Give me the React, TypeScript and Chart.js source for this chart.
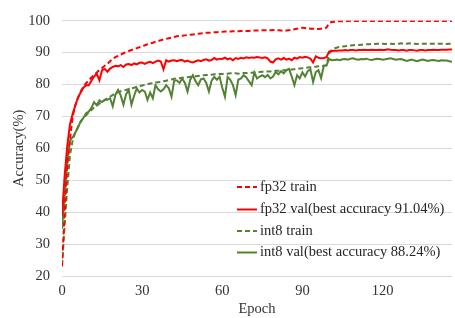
import React, { useEffect, useRef } from "react";
import { Chart, registerables } from "chart.js";

Chart.register(...registerables);

const fp32Train = [
  23, 40, 55, 63, 70, 73.5, 75.8, 77.8, 79.3, 80.4,
  81.3, 82.2, 83, 83.8, 84.5, 85.2, 85.9, 86.5, 87.3, 88,
  88.6, 89, 89.4, 89.8, 90.2, 90.5, 90.8, 91.1, 91.4, 91.7,
  92, 92.3, 92.6, 92.9, 93.1, 93.4, 93.6, 93.9, 94.1, 94.3,
  94.5, 94.7, 94.9, 95.1, 95.2, 95.3, 95.4, 95.5, 95.6, 95.7,
  95.8, 95.9, 96, 96.1, 96.2, 96.2, 96.3, 96.4, 96.4, 96.5,
  96.5, 96.6, 96.6, 96.6, 96.7, 96.7, 96.7, 96.8, 96.8, 96.8,
  96.8, 96.9, 96.9, 96.9, 97, 97, 97, 97, 97, 97.1,
  97.1, 97, 96.9, 96.8, 96.9, 97, 97.1, 97.3, 97.5, 97.7,
  97.8, 97.7, 97.6, 97.5, 97.5, 97.4, 97.4, 97.5, 97.6, 97.8,
  99.3, 99.6, 99.7, 99.8, 99.8, 99.8, 99.8, 99.9, 99.9, 99.9,
  99.9, 99.9, 99.9, 99.9, 99.9, 99.9, 99.9, 99.9, 99.9, 99.9,
  99.9, 99.9, 99.9, 99.9, 99.9, 99.9, 99.9, 99.9, 99.9, 99.9,
  99.9, 99.9, 99.9, 99.9, 99.9, 99.9, 99.9, 99.9, 99.9, 99.9,
  99.9, 99.9, 99.9, 99.9, 99.9, 99.9, 99.9,
];

const fp32Val = [
  39, 51.5, 61, 67.6, 70.8, 73.5, 76, 77.5, 79, 79.8,
  79.8, 81.2, 82.5, 83.4, 81.3, 84.5, 84.9, 84, 85, 85.5,
  85.9, 85.7, 86.1, 85.5, 86.3, 86.4, 86.1, 86.6, 86.3, 86.8,
  86.9, 86.5, 86.9, 87.1, 86.7, 87.2, 87.5, 87.2, 84.8, 87.6,
  87.2, 87.5, 87.6, 87.3, 87.6, 87.7, 87.2, 87.5, 87.1, 86.9,
  87.3, 87.6, 87.3, 87.7, 87.9, 87.5, 87.7, 88.3, 87.8, 88.1,
  88, 88.4, 87.9, 88.2, 87.6, 88.3, 88, 88.4, 88.2, 88.5,
  88.3, 88.5, 88.4, 88.6, 88.5, 88.3, 88.5, 88.2, 87.2, 86.9,
  87.9, 88.2, 87.8, 88.3, 87.8, 88.1, 87.6, 88.4, 88.1, 88.6,
  88.4, 88.7, 88.5, 88.1, 86.9, 88.8, 88.4, 88.2, 88.3, 88.6,
  90.3, 90.5, 90.6, 90.6, 90.7, 90.7, 90.8, 90.7, 90.8, 90.8,
  90.7, 90.8, 90.8, 90.9, 90.8, 90.8, 90.9, 90.8, 90.8, 90.9,
  90.8, 90.8, 91.04, 90.9, 90.8, 90.8, 90.7, 90.8, 90.8, 90.6,
  90.8, 90.8, 90.7, 90.6, 90.8, 90.8, 90.7, 90.8, 90.8, 90.9,
  90.8, 90.8, 90.9, 90.9, 90.9, 91, 91,
];

const int8Train = [
  23.5, 36, 48, 58, 62.5, 65, 66.8, 68.3, 69.5, 70.4,
  71.2, 72, 72.8, 73.4, 74, 74.6, 75.1, 75.7, 76.2, 76.7,
  77.2, 77.6, 77.9, 78.1, 78.3, 78.6, 78.8, 79, 79.3, 79.5,
  79.7, 79.9, 80.1, 80.3, 80.4, 80.6, 80.7, 80.8, 81, 81.2,
  81.4, 81.6, 81.8, 81.9, 82, 82.1, 82.2, 82.3, 82.4, 82.5,
  82.6, 82.7, 82.8, 82.9, 83, 83, 83.1, 83.2, 83.2, 83.3,
  83.3, 83.4, 83.4, 83.5, 83.5, 83.5, 83.4, 83.5, 83.6, 83.6,
  83.7, 83.7, 83.8, 83.9, 83.9, 84, 84, 84.1, 84.1, 84.2,
  84.3, 84.3, 84.4, 84.5, 84.5, 84.6, 84.7, 84.8, 84.9, 85,
  85.1, 85.2, 85.3, 85.4, 85.5, 85.6, 85.7, 85.8, 85.9, 86,
  89.8, 90.8, 91.3, 91.6, 91.8, 91.9, 92, 92.1, 92.2, 92.3,
  92.4, 92.4, 92.5, 92.5, 92.6, 92.6, 92.7, 92.7, 92.8, 92.8,
  92.8, 92.7, 92.8, 92.8, 92.7, 92.8, 92.8, 92.9, 92.8, 92.8,
  92.9, 92.8, 92.8, 92.7, 92.8, 92.8, 92.8, 92.7, 92.8, 92.8,
  92.7, 92.8, 92.8, 92.7, 92.7, 92.8, 92.7,
];

const int8Val = [
  34.8, 45, 56, 62.5, 63.5, 65, 66.5, 68.5, 69.5, 71,
  71.5, 72.7, 74.5, 73.5, 75, 74.5, 75.2, 75.2, 75.7, 73.2,
  76.8, 78.3, 76.5, 73.7, 77, 78.3, 73.7, 76.5, 78.8, 77.5,
  78.3, 77.8, 75.2, 77.5, 75.7, 79.8, 78.5, 77.8, 78.5, 79.8,
  78.8, 76.2, 81.3, 81.3, 80.5, 81.9, 80.5, 77.8, 81.5, 82.9,
  81, 79.8, 81.6, 81.9, 80.5, 77.8, 81.2, 82.4, 81.5, 82.4,
  79, 76.2, 82.4, 81.5, 79.8, 76.7, 81.5, 81.9, 82.9, 82.2,
  81, 79.8, 83.8, 81.9, 82.5, 82.9, 82.3, 83, 81.9, 82.5,
  83.9, 83.2, 84.2, 83.5, 84.5, 84.9, 82.5, 79.8, 82.9, 81.9,
  83.8, 82.5, 84.2, 84.8, 80.8, 83.9, 84.5, 82, 85.9, 86,
  88, 87.6, 87.7, 87.8, 87.6, 87.9, 88, 87.8, 88.1, 88.24,
  87.9, 87.8, 88, 87.9, 88.1, 87.8, 87.7, 87.9, 88.1, 88,
  87.8, 87.9, 88.1, 88.2, 88, 87.8, 87.9, 88, 87.7, 87.4,
  87.6, 87.8, 87.5, 87.3, 87.6, 87.8, 87.6, 87.4, 87.6, 87.7,
  87.5, 87.4, 87.6, 87.5, 87.5, 87.3, 87.1,
];

const epochs = fp32Train.map((_, i) => i);
const xTicks = [0, 30, 60, 90, 120];
const legendLabels = [
  "fp32 train",
  "fp32 val(best accuracy 91.04%)",
  "int8 train",
  "int8 val(best accuracy 88.24%)",
];

const RED = "#ff0000";
const GREEN = "#548235";
const FONT = "'Liberation Serif', 'DejaVu Serif', serif";
const FS = 14.5;

const legendPlugin = {
  id: "insideLegend",
  afterDraw(chart: any) {
    const ctx = chart.ctx;
    const x0 = 237;
    const x1 = 257;
    const tx = 260;
    const rows = [187, 209.5, 231, 252.5];
    ctx.save();
    chart.data.datasets.forEach((ds: any, i: number) => {
      const y = rows[i];
      ctx.beginPath();
      ctx.strokeStyle = ds.borderColor;
      ctx.lineWidth = 2;
      ctx.setLineDash(ds.borderDash || []);
      ctx.moveTo(x0, y);
      ctx.lineTo(x1, y);
      ctx.stroke();
      ctx.setLineDash([]);
      ctx.fillStyle = "#262626";
      ctx.font = `${FS}px ${FONT}`;
      ctx.textBaseline = "middle";
      ctx.textAlign = "left";
      ctx.fillText(legendLabels[i], tx, y);
    });
    ctx.restore();
  },
};

export default function App() {
  const ref = useRef<HTMLCanvasElement | null>(null);
  useEffect(() => {
    if (!ref.current) return;
    const chart = new Chart(ref.current, {
      type: "line",
      data: {
        labels: epochs,
        datasets: [
          { label: legendLabels[0], data: fp32Train, borderColor: RED, borderDash: [5, 3], borderWidth: 2, pointRadius: 0, fill: false, tension: 0 },
          { label: legendLabels[1], data: fp32Val, borderColor: RED, borderWidth: 2, pointRadius: 0, fill: false, tension: 0 },
          { label: legendLabels[2], data: int8Train, borderColor: GREEN, borderDash: [5, 3], borderWidth: 2, pointRadius: 0, fill: false, tension: 0 },
          { label: legendLabels[3], data: int8Val, borderColor: GREEN, borderWidth: 2, pointRadius: 0, fill: false, tension: 0 },
        ],
      },
      options: {
        animation: false,
        responsive: true,
        maintainAspectRatio: false,
        layout: { padding: { top: 14, right: 3, left: 0, bottom: 0 } },
        plugins: { legend: { display: false }, tooltip: { enabled: false } },
        scales: {
          x: {
            type: "linear",
            min: 0,
            max: 146,
            afterFit: (s: any) => { s.height = 42; },
            afterBuildTicks: (s: any) => { s.ticks = xTicks.map((v) => ({ value: v })); },
            grid: { display: false, drawTicks: false },
            border: { display: false },
            ticks: { padding: 6, color: "#333", font: { family: FONT, size: FS }, maxRotation: 0 },
            title: { display: true, text: "Epoch", color: "#333", font: { family: FONT, size: FS }, padding: { top: 0, bottom: 0 } },
          },
          y: {
            min: 20,
            max: 100,
            afterFit: (s: any) => { s.width = 62; },
            grid: { color: "#d9d9d9", lineWidth: 1, drawTicks: false },
            border: { display: false },
            ticks: { stepSize: 10, padding: 12, color: "#333", font: { family: FONT, size: FS } },
            title: { display: true, text: "Accuracy(%)", color: "#333", font: { family: FONT, size: FS }, padding: { top: 10, bottom: 0 } },
          },
        },
      },
      plugins: [legendPlugin],
    });
    return () => chart.destroy();
  }, []);
  return (
    <div style={{ position: "fixed", left: 0, top: 0, width: 455, height: 318, background: "#fff" }}>
      <canvas ref={ref} />
    </div>
  );
}
